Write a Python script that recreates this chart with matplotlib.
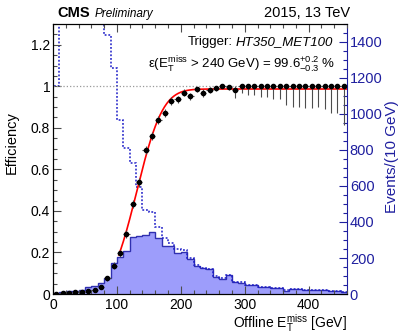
import math
import numpy as np
import matplotlib
matplotlib.use('Agg')
import matplotlib.pyplot as plt
from matplotlib.ticker import MultipleLocator, FuncFormatter

plt.rcParams['font.family'] = ['Liberation Sans', 'DejaVu Sans']
plt.rcParams['mathtext.fontset'] = 'custom'
plt.rcParams['mathtext.rm'] = 'Liberation Sans'
plt.rcParams['mathtext.it'] = 'Liberation Sans:italic'

# binning: 10 GeV bins from 0 to 460 GeV
bin_edges = np.arange(0, 470, 10)
bin_centres = bin_edges[:-1] + 5

# events passing the trigger (filled histogram, right axis)
passed = [8, 10, 15, 15, 20, 41, 44, 63, 87, 170,
          204, 239, 315, 322, 330, 346, 309, 267, 267, 230,
          235, 193, 156, 143, 137, 96, 85, 104, 67, 63,
          50, 50, 37, 37, 33, 33, 19, 28, 28, 22,
          20, 20, 20, 15, 15, 10]

# all events (dotted histogram, right axis); bins 10-80 run off the top
total = [1155, 2500, 2500, 1900, 2500, 2560, 2200, 1800, 1439, 1254,
         967, 809, 730, 596, 467, 457, 370, 309, 281, 248,
         244, 198, 161, 147, 140, 99, 88, 106, 69, 64,
         51, 51, 38, 38, 34, 34, 20, 29, 29, 23,
         21, 21, 21, 16, 16, 11]

# efficiency points and lower errors (left axis)
eff = [0.002, 0.004, 0.006, 0.008, 0.008, 0.016, 0.02, 0.035, 0.075, 0.137,
       0.196, 0.29, 0.435, 0.537, 0.694, 0.761, 0.839, 0.871, 0.93, 0.937,
       0.97, 0.951, 0.986, 0.967, 0.983, 0.991, 1.0, 0.998, 0.983, 1.0,
       1.0, 1.0, 1.0, 1.0, 1.0, 1.0, 1.0, 1.0, 1.0, 1.0,
       1.0, 1.0, 1.0, 1.0, 1.0, 1.0]
eff_err_lo = [0.003, 0.003, 0.003, 0.003, 0.003, 0.005, 0.005, 0.006, 0.01, 0.015,
              0.018, 0.02, 0.02, 0.02, 0.02, 0.02, 0.02, 0.02, 0.018, 0.018,
              0.015, 0.018, 0.012, 0.018, 0.015, 0.015, 0.01, 0.015, 0.04, 0.03,
              0.04, 0.04, 0.05, 0.05, 0.06, 0.06, 0.09, 0.10, 0.10, 0.105,
              0.105, 0.10, 0.11, 0.13, 0.13, 0.185]

# error function fit
fit_plateau = 0.987
fit_mu = 131.0
fit_sigma = 32.0
fit_xmin = 103.0

BLUE = '#1f1f9f'


def fit_curve(x):
    return np.array([fit_plateau * 0.5 * (1 + math.erf((v - fit_mu) / (fit_sigma * math.sqrt(2)))) for v in x])


def make_plot():
    fig = plt.figure(figsize=(4.06, 3.34), dpi=100)
    ax = fig.add_axes([53 / 406, 40 / 334, 294 / 406, 270 / 334])
    ax2 = ax.twinx()
    ax.set_zorder(ax2.get_zorder() + 1)
    ax.patch.set_visible(False)

    # histograms on the right axis
    ax2.stairs(passed, bin_edges, fill=True, color='#9d9dfb', lw=0)
    ax2.stairs(passed, bin_edges, color='#3030b0', lw=1.0)
    ax2.stairs(total, bin_edges, color='#1c1cc8', lw=1.1, ls=(0, (1.2, 1.2)))
    ax2.set_ylim(0, 1500)

    # efficiency
    ax.axhline(1.0, color='0.6', ls=':', lw=0.9)
    xf = np.linspace(fit_xmin, 460, 300)
    ax.plot(xf, fit_curve(xf), color='red', lw=1.2)
    e = np.array(eff)
    lo = np.array(eff_err_lo)
    hi = np.minimum(lo, 1.0 - e)
    ax.errorbar(bin_centres, e, xerr=5, yerr=[lo, hi], fmt='o', ms=3.0,
                color='black', ecolor='0.3', elinewidth=0.8, capsize=0)

    ax.set_xlim(0, 460)
    ax.set_ylim(0, 1.3)

    # axes styling
    ax.spines['right'].set_visible(False)
    ax2.spines['right'].set_color(BLUE)
    ax.xaxis.set_major_locator(MultipleLocator(100))
    ax.xaxis.set_minor_locator(MultipleLocator(20))
    ax.yaxis.set_major_locator(MultipleLocator(0.2))
    ax.yaxis.set_minor_locator(MultipleLocator(0.05))
    ax.yaxis.set_major_formatter(FuncFormatter(lambda v, p: f'{v:g}'))
    ax.tick_params(which='both', direction='in', top=True, right=False, labelsize=10)
    ax.tick_params(which='major', length=6, width=0.8, color='0.3')
    ax.tick_params(which='minor', length=3, width=0.8, color='0.3')
    ax.tick_params(axis='x', pad=3)
    ax.tick_params(axis='y', pad=2)

    ax2.yaxis.set_major_locator(MultipleLocator(200))
    ax2.yaxis.set_minor_locator(MultipleLocator(50))
    ax2.tick_params(which='both', direction='in', colors=BLUE, labelsize=10.5, pad=2)
    ax2.tick_params(which='major', length=6, width=0.8)
    ax2.tick_params(which='minor', length=3, width=0.8)

    # labels
    ax.set_xlabel(r'Offline $\mathregular{E_T^{miss}}$ [GeV]', fontsize=10, ha='right')
    ax.xaxis.set_label_coords(1.0, -0.066)
    ax.text(-0.139, 0.56, 'Efficiency', transform=ax.transAxes, rotation=90,
            ha='center', va='center', fontsize=10.5)
    ax.text(1.153, 0.51, 'Events/(10 GeV)', transform=ax.transAxes, rotation=90,
            ha='center', va='center', fontsize=11, color=BLUE)

    fig.text(57 / 406, 1 - 13 / 334, 'CMS', fontsize=10.5, weight='bold', va='center')
    fig.text(95 / 406, 1 - 14 / 334, 'Preliminary', fontsize=8.5, style='italic', va='center')
    fig.text(350 / 406, 1 - 13 / 334, '2015, 13 TeV', fontsize=10.5, ha='right', va='center')

    # trigger name in italics, "Trigger:" placed just left of it
    trig = ax.text(0.952, 0.933, 'HT350_MET100', transform=ax.transAxes,
                   ha='right', va='center', fontsize=9.5, style='italic')
    fig.canvas.draw()
    bb = trig.get_window_extent(fig.canvas.get_renderer())
    ax.text(bb.x0 - 3, (bb.y0 + bb.y1) / 2, 'Trigger:', transform=None,
            ha='right', va='center', fontsize=9.5)

    ax.text(0.959, 0.848,
            'ε(' + r'$\mathregular{E_T^{miss}}$' + ' > 240 GeV) = 99.6' + r'$\mathregular{^{+0.2}_{-0.3}}$' + ' %',
            transform=ax.transAxes, ha='right', va='center', fontsize=9.5)
    return fig


def main():
    fig = make_plot()
    fig.savefig('out.png', dpi=100)


if __name__ == "__main__":
    main()
